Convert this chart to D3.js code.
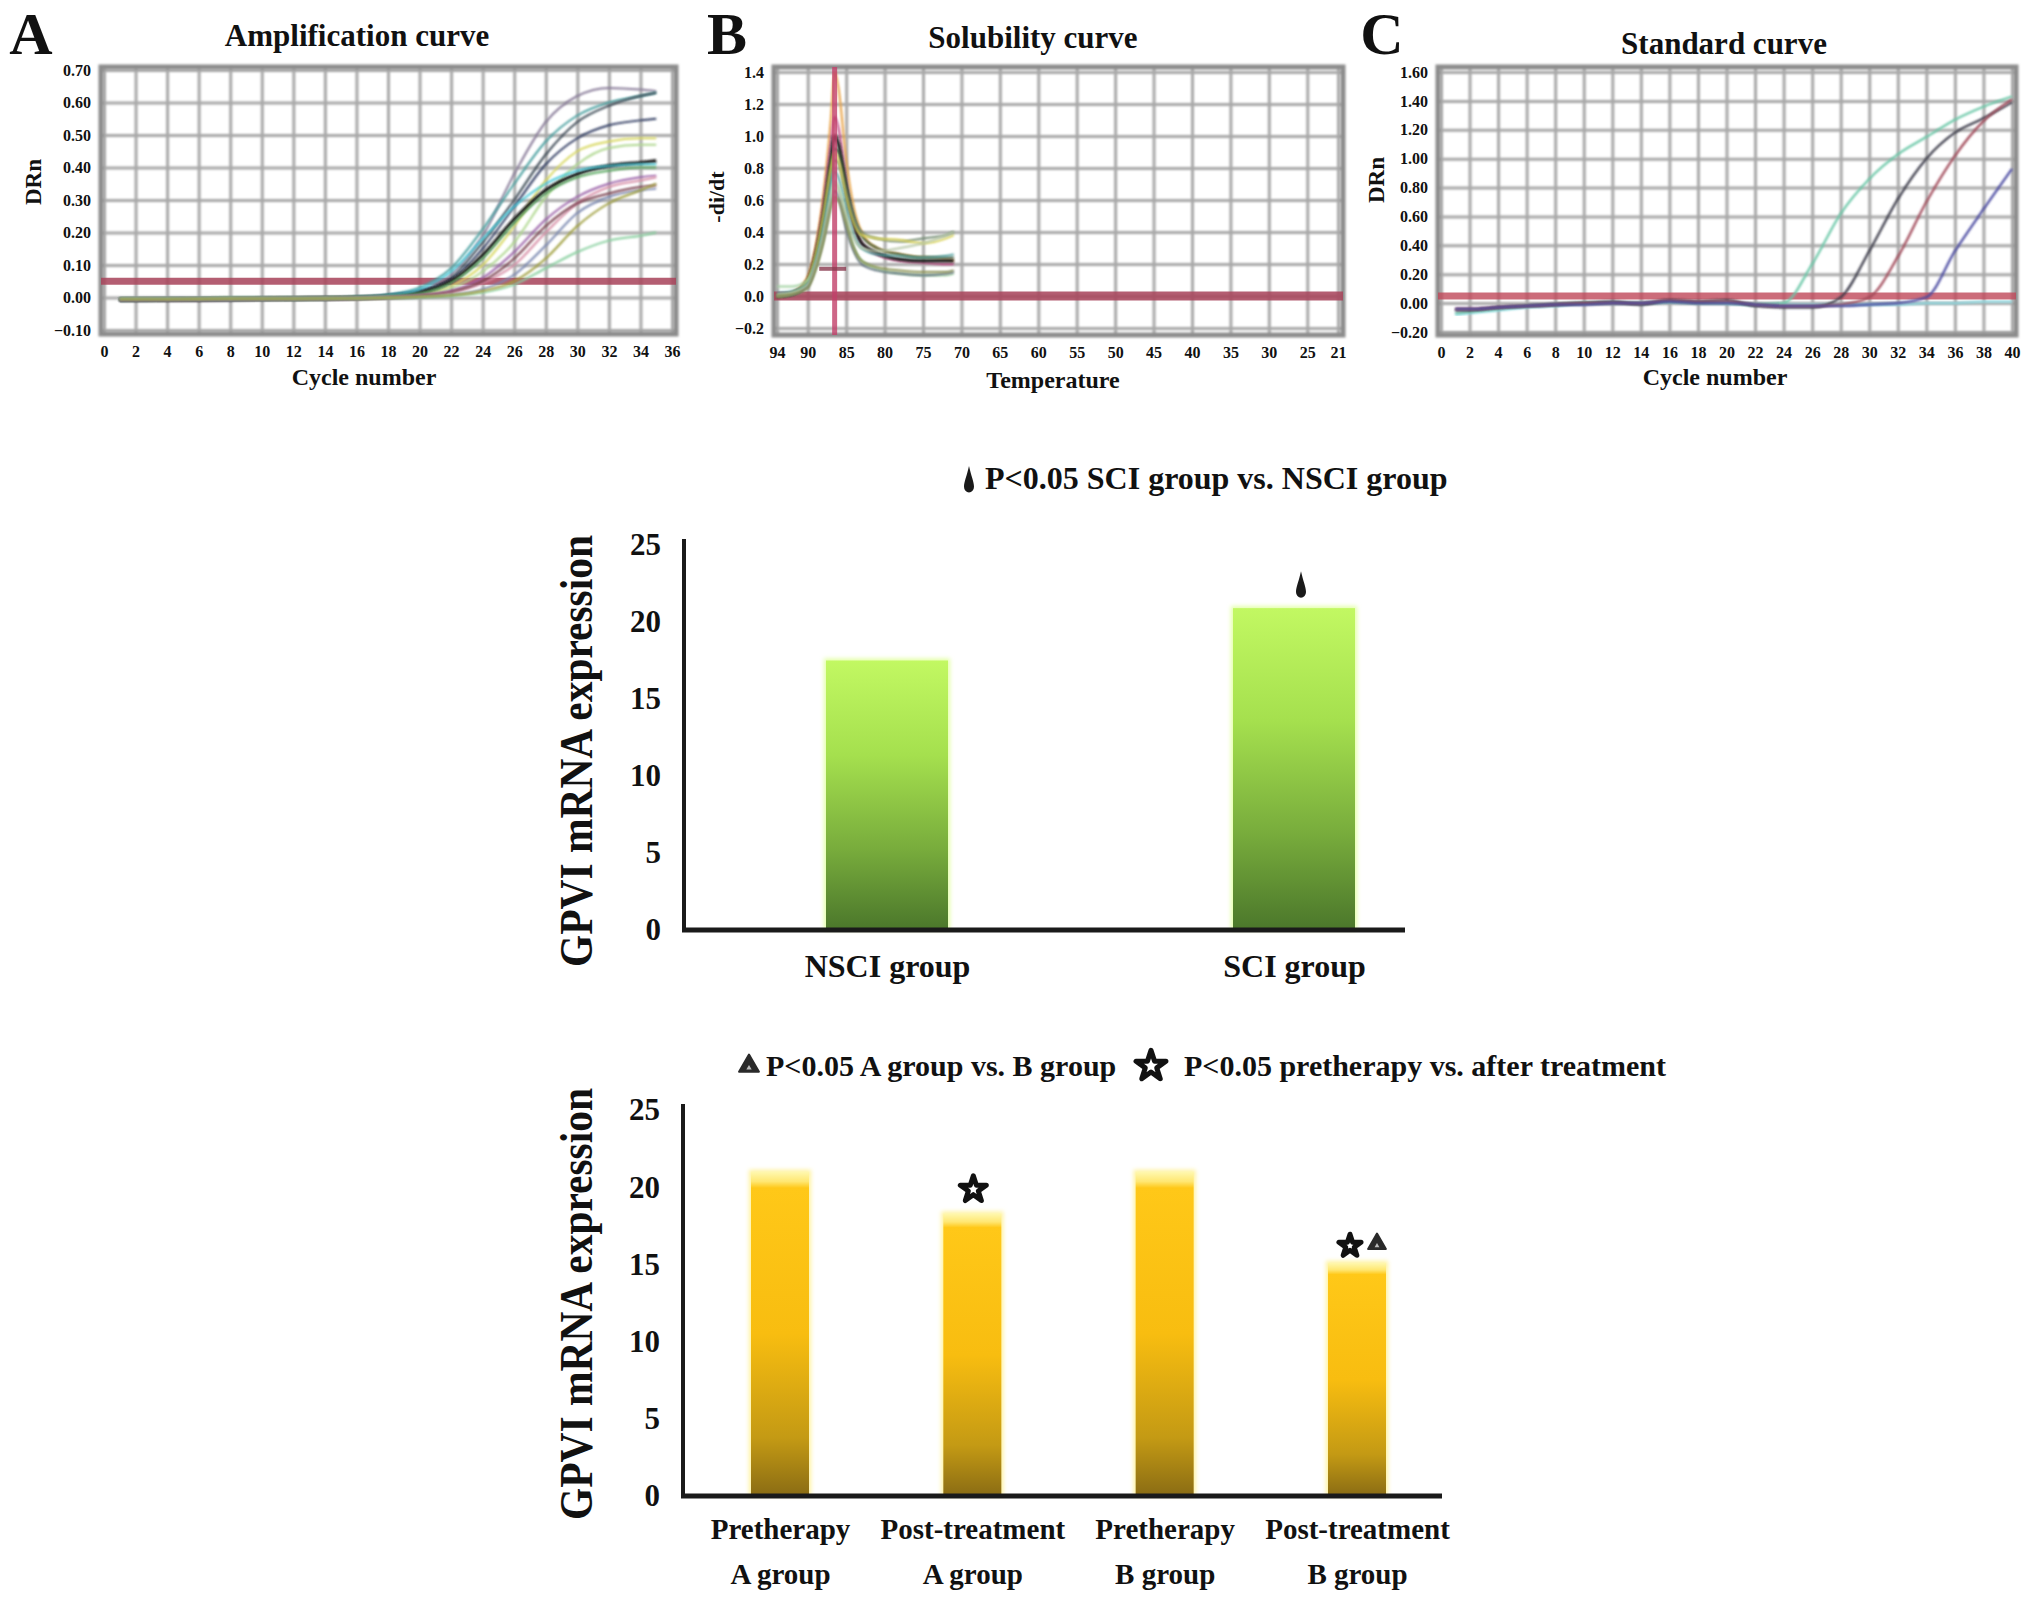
<!DOCTYPE html>
<html>
<head>
<meta charset="utf-8">
<script src="https://cdn.jsdelivr.net/npm/d3@7"></script>
<style>
  body { margin: 0; background: #fff; }
  svg { display: block; font-family: "Liberation Serif", "Times New Roman", serif; font-weight: bold; }
</style>
</head>
<body>
<svg id="chart" width="2031" height="1605"></svg>
<script>
// ---------- Panel A: amplification curves ----------
const ampXTicks = [0, 2, 4, 6, 8, 10, 12, 14, 16, 18, 20, 22, 24, 26, 28, 30, 32, 34, 36];
const ampYTicks = [-0.1, 0, 0.1, 0.2, 0.3, 0.4, 0.5, 0.6, 0.7];
const ampCycles = [1, 4, 8, 12, 16, 18, 20, 22, 24, 26, 28, 30, 32, 34, 35];
const ampColors = ["#8a7d9a", "#4aa0a0", "#3c4a55", "#2e3a60", "#d8d860", "#b0d890", "#1a1a1a",
                   "#40c8d8", "#5aa860", "#9a60a8", "#d890a8", "#7a88b0", "#7a4050", "#8ad0a0", "#a0a040"];
const ampValues = [
  [-0.005, -0.004, -0.004, -0.003, 0.0, 0.006, 0.02, 0.07, 0.19, 0.38, 0.54, 0.62, 0.645, 0.64, 0.635],
  [-0.006, -0.005, -0.004, -0.003, 0.0, 0.008, 0.03, 0.09, 0.21, 0.35, 0.48, 0.56, 0.60, 0.62, 0.63],
  [-0.006, -0.005, -0.004, -0.003, 0.0, 0.005, 0.02, 0.06, 0.17, 0.30, 0.44, 0.54, 0.59, 0.62, 0.63],
  [-0.007, -0.006, -0.005, -0.004, -0.001, 0.004, 0.018, 0.055, 0.15, 0.28, 0.41, 0.49, 0.53, 0.545, 0.55],
  [-0.005, -0.005, -0.004, -0.003, -0.001, 0.002, 0.01, 0.035, 0.10, 0.22, 0.36, 0.45, 0.48, 0.49, 0.49],
  [-0.005, -0.005, -0.004, -0.003, -0.001, 0.002, 0.008, 0.028, 0.08, 0.17, 0.31, 0.41, 0.46, 0.47, 0.47],
  [-0.008, -0.007, -0.006, -0.004, -0.001, 0.004, 0.015, 0.05, 0.13, 0.24, 0.33, 0.38, 0.405, 0.415, 0.42],
  [-0.005, -0.005, -0.004, -0.003, 0.0, 0.006, 0.025, 0.08, 0.18, 0.28, 0.35, 0.39, 0.405, 0.41, 0.41],
  [-0.006, -0.005, -0.004, -0.003, -0.001, 0.003, 0.012, 0.045, 0.12, 0.23, 0.32, 0.37, 0.39, 0.40, 0.40],
  [-0.006, -0.005, -0.005, -0.004, -0.002, 0.001, 0.006, 0.02, 0.06, 0.14, 0.24, 0.31, 0.35, 0.37, 0.375],
  [-0.005, -0.005, -0.004, -0.003, -0.002, 0.0, 0.004, 0.015, 0.045, 0.10, 0.20, 0.29, 0.34, 0.36, 0.37],
  [-0.006, -0.005, -0.005, -0.004, -0.003, -0.001, 0.002, 0.008, 0.025, 0.07, 0.16, 0.26, 0.31, 0.33, 0.335],
  [-0.006, -0.006, -0.005, -0.004, -0.002, 0.0, 0.005, 0.018, 0.05, 0.12, 0.22, 0.29, 0.32, 0.34, 0.345],
  [-0.004, -0.004, -0.003, -0.003, -0.002, -0.001, 0.001, 0.005, 0.015, 0.04, 0.09, 0.14, 0.175, 0.19, 0.20],
  [-0.005, -0.005, -0.004, -0.004, -0.003, -0.001, 0.002, 0.007, 0.02, 0.05, 0.12, 0.22, 0.29, 0.33, 0.35]
];
const ampThreshold = 0.05;

// ---------- Panel B: melt (solubility) curves ----------
const meltXTicks = [94, 90, 85, 80, 75, 70, 65, 60, 55, 50, 45, 40, 35, 30, 25, 21];
const meltYTicks = [-0.2, 0, 0.2, 0.4, 0.6, 0.8, 1.0, 1.2, 1.4];
const meltTemps = [94, 92, 90, 89, 88, 87, 86.5, 86, 85, 84, 83, 81, 78, 75, 72, 71];
const meltColors = ["#e8a040", "#c04080", "#202020", "#305030", "#708870", "#d8d050",
                    "#50a0a0", "#a0d0a0", "#607080", "#b8c8a8", "#889050"];
const meltValues = [
  [0, 0.02, 0.12, 0.30, 0.62, 1.10, 1.40, 1.30, 0.85, 0.55, 0.40, 0.30, 0.26, 0.24, 0.23, 0.22],
  [0, 0.02, 0.10, 0.27, 0.55, 0.95, 1.12, 1.05, 0.70, 0.45, 0.33, 0.26, 0.22, 0.21, 0.20, 0.20],
  [0, 0.015, 0.09, 0.25, 0.50, 0.85, 1.00, 0.95, 0.66, 0.45, 0.33, 0.27, 0.23, 0.22, 0.22, 0.22],
  [0, 0.015, 0.08, 0.22, 0.45, 0.78, 0.92, 0.90, 0.70, 0.50, 0.38, 0.30, 0.26, 0.24, 0.24, 0.24],
  [0, 0.015, 0.08, 0.20, 0.42, 0.72, 0.85, 0.83, 0.65, 0.48, 0.40, 0.36, 0.34, 0.36, 0.38, 0.40],
  [0, 0.02, 0.10, 0.26, 0.50, 0.80, 0.90, 0.85, 0.62, 0.45, 0.38, 0.36, 0.35, 0.33, 0.36, 0.38],
  [0.02, 0.03, 0.08, 0.20, 0.40, 0.68, 0.78, 0.74, 0.55, 0.38, 0.30, 0.26, 0.25, 0.24, 0.25, 0.26],
  [0.06, 0.06, 0.10, 0.20, 0.38, 0.62, 0.72, 0.68, 0.48, 0.30, 0.22, 0.17, 0.14, 0.13, 0.13, 0.14],
  [0, 0.01, 0.06, 0.18, 0.35, 0.58, 0.66, 0.62, 0.42, 0.28, 0.20, 0.16, 0.14, 0.13, 0.14, 0.15],
  [0.01, 0.02, 0.07, 0.18, 0.36, 0.60, 0.70, 0.66, 0.50, 0.36, 0.30, 0.28, 0.30, 0.33, 0.38, 0.40],
  [0, 0.01, 0.05, 0.16, 0.33, 0.55, 0.62, 0.60, 0.45, 0.30, 0.22, 0.18, 0.16, 0.15, 0.15, 0.16]
];
const meltPeakTemp = 86.5;
const meltMarker = [88.5, 85, 0.17];

// ---------- Panel C: standard curves ----------
const stdXTicks = [0, 2, 4, 6, 8, 10, 12, 14, 16, 18, 20, 22, 24, 26, 28, 30, 32, 34, 36, 38, 40];
const stdYTicks = [-0.2, 0, 0.2, 0.4, 0.6, 0.8, 1.0, 1.2, 1.4, 1.6];
const stdCycles = [1, 2, 4, 6, 8, 10, 12, 14, 16, 18, 20, 22, 24, 26, 28, 30, 32, 34, 36, 38, 40];
const stdColors = ["#8ad8e0", "#6cc8a8", "#3a3a48", "#a04858", "#4848a0"];
const stdValues = [
  [-0.08, -0.07, -0.05, -0.03, -0.02, 0.0, 0.0, 0.0, 0.01, 0.01, 0.0, -0.01, -0.01, -0.01, -0.01, -0.01, -0.01, 0.0, 0.0, 0.01, 0.01],
  [-0.07, -0.06, -0.04, -0.02, -0.01, 0.0, 0.0, 0.0, 0.01, 0.0, 0.0, -0.01, 0.0, 0.27, 0.62, 0.86, 1.03, 1.15, 1.27, 1.36, 1.43],
  [-0.05, -0.05, -0.03, -0.02, -0.01, 0.0, 0.01, -0.01, 0.02, 0.01, 0.02, -0.02, -0.03, -0.03, 0.04, 0.36, 0.72, 1.00, 1.18, 1.28, 1.39],
  [-0.04, -0.04, -0.03, -0.02, -0.01, 0.0, 0.0, 0.0, 0.02, 0.01, 0.01, -0.01, -0.02, -0.02, -0.01, 0.04, 0.32, 0.70, 1.02, 1.26, 1.41],
  [-0.04, -0.04, -0.03, -0.02, -0.01, -0.01, 0.0, 0.0, 0.01, 0.0, 0.0, -0.01, -0.02, -0.02, -0.02, -0.01, 0.0, 0.04, 0.36, 0.65, 0.93]
];
const stdThreshold = 0.05;

// ---------- Bar chart 1 ----------
const sciGroups = ["NSCI group", "SCI group"];
const sciValues = [17.5, 20.9];
const sciMarks = [[], ["drop"]];
const barYTicks = [0, 5, 10, 15, 20, 25];

// ---------- Bar chart 2 ----------
const treatGroups = ["Pretherapy|A group", "Post-treatment|A group", "Pretherapy|B group", "Post-treatment|B group"];
const treatValues = [21.0, 18.3, 21.0, 15.1];
const treatMarks = [[], ["star"], [], ["star", "tri"]];

const svg = d3.select("#chart");
const defs = svg.append("defs");
defs.append("filter").attr("id", "soft")
  .append("feGaussianBlur").attr("stdDeviation", 0.8);
defs.append("filter").attr("id", "glow").attr("x", "-20%").attr("y", "-5%").attr("width", "140%").attr("height", "110%")
  .append("feGaussianBlur").attr("stdDeviation", 2);

function gradient(id, stops) {
  let lg = defs.append("linearGradient").attr("id", id)
    .attr("x1", 0).attr("y1", 0).attr("x2", 0).attr("y2", 1);
  stops.forEach(s => lg.append("stop").attr("offset", s[0]).attr("stop-color", s[1]));
}
gradient("greenBar", [["0%", "#c2f862"], ["35%", "#a5e04e"], ["70%", "#78ac3c"], ["100%", "#4b772b"]]);
gradient("goldBar", [["0%", "#fff8b0"], ["3%", "#ffe772"], ["5%", "#ffc818"], ["50%", "#f8bd10"], ["82%", "#c49a14"], ["100%", "#8a6c14"]]);

// grid + frame + tick labels for the three instrument panels
function drawPanel(box, x, y, xTicks, yTicks, yFmt, id) {
  let g = svg.append("g");
  defs.append("clipPath").attr("id", id)
    .append("rect").attr("x", box.l).attr("y", box.t)
    .attr("width", box.r - box.l).attr("height", box.b - box.t);

  let grid = g.append("g").attr("filter", "url(#soft)");
  grid.append("g").attr("transform", `translate(0,${box.b})`)
    .call(d3.axisBottom(x).tickValues(xTicks).tickSize(-(box.b - box.t)).tickFormat(""))
    .call(a => a.select(".domain").remove());
  grid.append("g").attr("transform", `translate(${box.l},0)`)
    .call(d3.axisLeft(y).tickValues(yTicks).tickSize(-(box.r - box.l)).tickFormat(""))
    .call(a => a.select(".domain").remove());
  grid.selectAll(".tick line").attr("stroke", "#a8a8a8").attr("stroke-width", 3);

  g.append("rect").attr("x", box.l).attr("y", box.t)
    .attr("width", box.r - box.l).attr("height", box.b - box.t)
    .attr("fill", "none").attr("stroke", "#8c8c8c").attr("stroke-width", 5)
    .attr("filter", "url(#soft)");

  let ya = g.append("g").attr("transform", `translate(${box.l},0)`)
    .call(d3.axisLeft(y).tickValues(yTicks).tickSize(0).tickPadding(10).tickFormat(yFmt));
  let xa = g.append("g").attr("transform", `translate(0,${box.b})`)
    .call(d3.axisBottom(x).tickValues(xTicks).tickSize(0).tickPadding(12).tickFormat(d3.format("d")));
  [ya, xa].forEach(a => {
    a.select(".domain").remove();
    a.attr("font-family", null).attr("font-size", 16);
    a.selectAll("text").attr("fill", "#111");
  });
  return g.append("g").attr("clip-path", `url(#${id})`);
}

function label(txt, x, y, size, rotate) {
  let t = svg.append("text").attr("text-anchor", "middle").attr("dy", "0.35em")
    .attr("font-size", size).attr("fill", "#111").text(txt);
  if (rotate) t.attr("transform", `translate(${x},${y}) rotate(-90)`);
  else t.attr("x", x).attr("y", y);
  return t;
}

// ----- Panel A -----
{
  const box = { l: 101, r: 676, t: 67, b: 334 };
  const x = d3.scaleLinear().domain([0, 36]).range([104, 672]);
  const y = d3.scaleLinear().domain([-0.1, 0.7]).range([330, 70]);
  const plot = drawPanel(box, x, y, ampXTicks, ampYTicks, d3.format(".2f"), "clipA");
  plot.append("line").attr("x1", box.l).attr("x2", box.r)
    .attr("y1", y(ampThreshold)).attr("y2", y(ampThreshold))
    .attr("stroke", "#a8435a").attr("stroke-width", 7).attr("opacity", 0.85);
  const line = d3.line().x((d, i) => x(ampCycles[i])).y(d => y(d)).curve(d3.curveMonotoneX);
  plot.selectAll("path.amp").data(ampValues).join("path").attr("class", "amp")
    .attr("d", line).attr("fill", "none")
    .attr("stroke", (d, i) => ampColors[i])
    .attr("stroke-width", (d, i) => ampColors[i] === "#1a1a1a" ? 3.5 : 2)
    .attr("filter", "url(#soft)");
  label("A", 31, 33, 60);
  label("Amplification curve", 357, 35, 31);
  label("Cycle number", 364, 377, 24);
  label("DRn", 33, 182, 23, true);
}

// ----- Panel B -----
{
  const box = { l: 774, r: 1343, t: 67, b: 335 };
  const x = d3.scaleLinear().domain([94, 21]).range([777, 1338]);
  const y = d3.scaleLinear().domain([-0.2, 1.4]).range([328, 72]);
  const plot = drawPanel(box, x, y, meltXTicks, meltYTicks, d3.format(".1f"), "clipB");
  plot.append("line").attr("x1", box.l).attr("x2", box.r)
    .attr("y1", y(0)).attr("y2", y(0))
    .attr("stroke", "#a8435a").attr("stroke-width", 9).attr("opacity", 0.85);
  const line = d3.line().x((d, i) => x(meltTemps[i])).y(d => y(d)).curve(d3.curveMonotoneX);
  plot.selectAll("path.melt").data(meltValues).join("path").attr("class", "melt")
    .attr("d", line).attr("fill", "none")
    .attr("stroke", (d, i) => meltColors[i])
    .attr("stroke-width", (d, i) => meltColors[i] === "#202020" ? 3.5 : 2)
    .attr("filter", "url(#soft)");
  plot.append("line").attr("x1", x(meltPeakTemp)).attr("x2", x(meltPeakTemp))
    .attr("y1", box.t).attr("y2", box.b)
    .attr("stroke", "#c2406a").attr("stroke-width", 5).attr("opacity", 0.8);
  plot.append("line").attr("x1", x(meltMarker[0])).attr("x2", x(meltMarker[1]))
    .attr("y1", y(meltMarker[2])).attr("y2", y(meltMarker[2]))
    .attr("stroke", "#8a3a50").attr("stroke-width", 4).attr("opacity", 0.8);
  label("B", 727, 33, 60);
  label("Solubility curve", 1033, 37, 31);
  label("Temperature", 1053, 380, 24);
  label("-di/dt", 716, 197, 22, true);
}

// ----- Panel C -----
{
  const box = { l: 1438, r: 2016, t: 67, b: 335 };
  const x = d3.scaleLinear().domain([0, 40]).range([1441, 2012]);
  const y = d3.scaleLinear().domain([-0.2, 1.6]).range([332, 72]);
  const plot = drawPanel(box, x, y, stdXTicks, stdYTicks, d3.format(".2f"), "clipC");
  plot.append("line").attr("x1", box.l).attr("x2", box.r)
    .attr("y1", y(stdThreshold)).attr("y2", y(stdThreshold))
    .attr("stroke", "#c0485a").attr("stroke-width", 7).attr("opacity", 0.8);
  const line = d3.line().x((d, i) => x(stdCycles[i])).y(d => y(d)).curve(d3.curveMonotoneX);
  plot.selectAll("path.std").data(stdValues).join("path").attr("class", "std")
    .attr("d", line).attr("fill", "none")
    .attr("stroke", (d, i) => stdColors[i]).attr("stroke-width", 2.2)
    .attr("filter", "url(#soft)");
  label("C", 1382, 33, 60);
  label("Standard curve", 1724, 43, 31);
  label("Cycle number", 1715, 377, 24);
  label("DRn", 1376, 180, 23, true);
}

// ---------- markers ----------
const dropPath = "M0,-13 C2,-5 5,1 5,5 A5,5 0 0 1 -5,5 C-5,1 -2,-5 0,-13Z";
function marker(kind, cx, cy, scale) {
  let s = scale || 1;
  if (kind === "drop") {
    svg.append("path").attr("d", dropPath).attr("fill", "#1a1a1a")
      .attr("transform", `translate(${cx},${cy}) scale(${s},${s * 1.15})`);
  } else if (kind === "star") {
    svg.append("path").attr("d", d3.symbol(d3.symbolStar, 210 * s * s)())
      .attr("fill", "#fff").attr("stroke", "#111").attr("stroke-width", 5)
      .attr("stroke-linejoin", "round")
      .attr("transform", `translate(${cx},${cy + 2})`);
  } else if (kind === "tri") {
    svg.append("path").attr("d", d3.symbol(d3.symbolTriangle, 190 * s * s)())
      .attr("fill", "#2a2a2a").attr("stroke", "#2a2a2a").attr("stroke-width", 2)
      .attr("stroke-linejoin", "round").attr("transform", `translate(${cx},${cy})`);
    svg.append("path").attr("d", d3.symbol(d3.symbolTriangle, 14 * s * s)())
      .attr("fill", "#bbb").attr("transform", `translate(${cx},${cy + 2})`);
  }
}

function barAxes(x, y, x0, x1) {
  svg.append("g").attr("transform", `translate(${x0},0)`)
    .call(d3.axisLeft(y).tickValues(barYTicks).tickSize(0).tickPadding(23).tickFormat(d3.format("d")))
    .call(a => a.select(".domain").remove())
    .attr("font-family", null).attr("font-size", 31)
    .selectAll("text").attr("fill", "#111");
  svg.append("line").attr("x1", x0).attr("x2", x0)
    .attr("y1", y(25) - 6).attr("y2", y(0))
    .attr("stroke", "#1a1a1a").attr("stroke-width", 4);
  svg.append("line").attr("x1", x0 - 2).attr("x2", x1)
    .attr("y1", y(0)).attr("y2", y(0))
    .attr("stroke", "#1a1a1a").attr("stroke-width", 5);
}

function bars(cls, groups, values, x, y, bw, fill, glow) {
  // soft pale halo, then the bar itself
  svg.selectAll(`rect.${cls}-halo`).data(values).join("rect").attr("class", `${cls}-halo`)
    .attr("x", (d, i) => x(groups[i]) - bw / 2 - 2).attr("width", bw + 4)
    .attr("y", d => y(d) - 2).attr("height", d => y(0) - y(d) + 2)
    .attr("fill", glow).attr("filter", "url(#glow)");
  svg.selectAll(`rect.${cls}`).data(values).join("rect").attr("class", cls)
    .attr("x", (d, i) => x(groups[i]) - bw / 2).attr("width", bw)
    .attr("y", d => y(d)).attr("height", d => y(0) - y(d))
    .attr("fill", fill);
}

// ----- Bar chart 1 -----
{
  const x = d3.scalePoint().domain(sciGroups).range([887, 1294]);
  const y = d3.scaleLinear().domain([0, 25]).range([930, 545]);
  bars("sci", sciGroups, sciValues, x, y, 122, "url(#greenBar)", "#e4ffa8");
  barAxes(x, y, 684, 1405);
  svg.append("g").attr("transform", `translate(0,${y(0)})`)
    .call(d3.axisBottom(x).tickSize(0).tickPadding(24))
    .call(a => a.select(".domain").remove())
    .attr("font-family", null).attr("font-size", 32)
    .selectAll("text").attr("fill", "#111");
  sciMarks.forEach((m, i) => m.forEach(k => marker(k, x(sciGroups[i]) + 7, y(sciValues[i]) - 22, 1)));
  label("GPVI mRNA expression", 576, 751, 46, true)
    .attr("textLength", 432).attr("lengthAdjust", "spacingAndGlyphs");
  marker("drop", 969, 481, 1);
  svg.append("text").attr("x", 985).attr("y", 478).attr("dy", "0.35em")
    .attr("font-size", 32).attr("fill", "#111").text("P<0.05 SCI group vs. NSCI group");
}

// ----- Bar chart 2 -----
{
  const x = d3.scalePoint().domain(treatGroups).range([780, 1357]);
  const y = d3.scaleLinear().domain([0, 25]).range([1496, 1110]);
  bars("treat", treatGroups, treatValues, x, y, 58, "url(#goldBar)", "#fff3a0");
  barAxes(x, y, 683, 1442);
  const xa = svg.append("g").attr("transform", `translate(0,${y(0)})`)
    .call(d3.axisBottom(x).tickSize(0).tickPadding(22).tickFormat(""))
    .call(a => a.select(".domain").remove())
    .attr("font-family", null).attr("font-size", 29);
  xa.selectAll(".tick text").each(function (d) {
    const t = d3.select(this).attr("fill", "#111");
    d.split("|").forEach((part, j) => t.append("tspan").attr("x", 0)
      .attr("dy", j === 0 ? "0.71em" : "1.55em").text(part));
  });
  treatMarks.forEach((m, i) => m.forEach((k, j) => {
    const cx = x(treatGroups[i]) + (m.length > 1 ? (j === 0 ? -7 : 20) : 1);
    marker(k, cx, y(treatValues[i]) - (m.length > 1 ? 19 : 26), m.length > 1 ? 0.85 : 1);
  }));
  label("GPVI mRNA expression", 576, 1304, 46, true)
    .attr("textLength", 432).attr("lengthAdjust", "spacingAndGlyphs");
  marker("tri", 749, 1066, 0.95);
  svg.append("text").attr("x", 766).attr("y", 1065).attr("dy", "0.35em")
    .attr("font-size", 30).attr("fill", "#111").text("P<0.05 A group vs. B group");
  marker("star", 1151, 1064, 1.15);
  svg.append("text").attr("x", 1184).attr("y", 1065).attr("dy", "0.35em")
    .attr("font-size", 30).attr("fill", "#111").text("P<0.05 pretherapy vs. after treatment");
}
</script>
</body>
</html>
